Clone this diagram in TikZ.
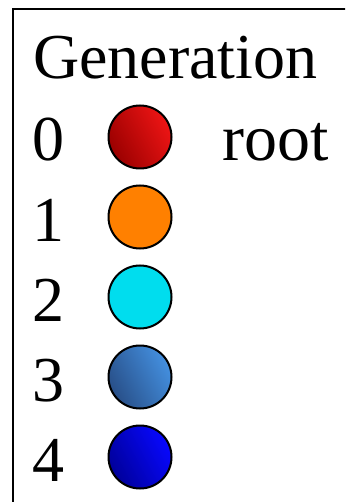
\documentclass[tikz,border=0pt]{standalone}
\usepackage{fontspec}
\setmainfont{Liberation Serif}
\definecolor{redDark}{HTML}{9A0000}
\definecolor{redLight}{HTML}{EE1515}
\definecolor{orangeFill}{HTML}{FF8000}
\definecolor{cyanFill}{HTML}{00DDEE}
\definecolor{steelDark}{HTML}{284F88}
\definecolor{steelLight}{HTML}{4490E0}
\definecolor{blueDark}{HTML}{00009A}
\definecolor{blueLight}{HTML}{0808FF}
\tikzset{
  label text/.style={anchor=base west, inner sep=0pt, font=\fontsize{64}{64}\selectfont},
  gen dot/.style={circle, draw=black, line width=2pt, minimum size=63pt, inner sep=0pt},
  glossy/.style 2 args={bottom color=#1, top color=#2, shading angle=-62},
}
\begin{document}
\begin{tikzpicture}[x=1pt, y=1pt]
\useasboundingbox (0,0) rectangle (345,-502);
\clip (0,0) rectangle (345,-502);
% legend frame (continues past the right and bottom edges)
\draw[line width=2pt] (13,-9) rectangle (420,-560);
\node[label text] (title) at (33,-79) {Generation};
% generation rows
\node[label text] (g0) at (32,-161) {0};
\node[label text] (g1) at (32,-241) {1};
\node[label text] (g2) at (32,-321) {2};
\node[label text] (g3) at (32,-401) {3};
\node[label text] (g4) at (32,-481) {4};
\node[gen dot, glossy={redDark}{redLight}] (d0) at (140,-137) {};
\node[gen dot, fill=orangeFill] (d1) at (140,-217) {};
\node[gen dot, fill=cyanFill] (d2) at (140,-297) {};
\node[gen dot, glossy={steelDark}{steelLight}] (d3) at (140,-377) {};
\node[gen dot, glossy={blueDark}{blueLight}] (d4) at (140,-457) {};
\node[label text, font=\fontsize{66}{66}\selectfont] (root) at (222,-161) {root};
\end{tikzpicture}
\end{document}
